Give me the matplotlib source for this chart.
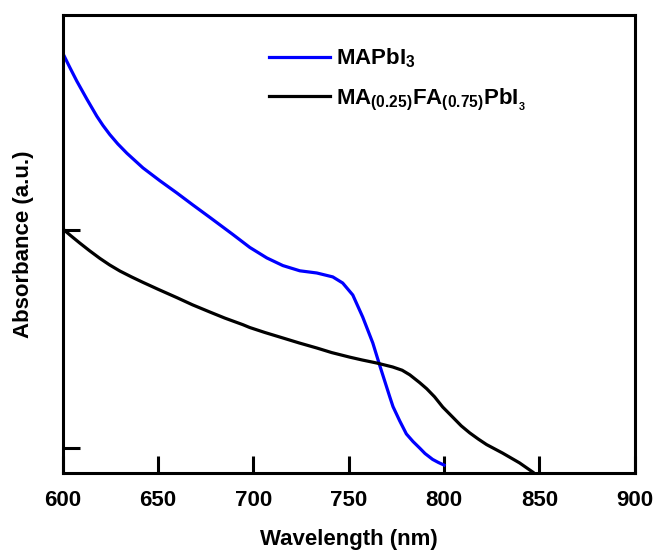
import numpy as np
import matplotlib
matplotlib.use('Agg')
import matplotlib.pyplot as plt

plt.rcParams['font.family'] = ['Liberation Sans', 'DejaVu Sans']
plt.rcParams['font.weight'] = 'bold'
plt.rcParams['mathtext.fontset'] = 'custom'
plt.rcParams['mathtext.rm'] = 'Liberation Sans:bold'
plt.rcParams['mathtext.bf'] = 'Liberation Sans:bold'
plt.rcParams['mathtext.it'] = 'Liberation Sans:bold'
plt.rcParams['mathtext.default'] = 'rm'

#Data (wavelength in nm, absorbance in a.u.)
wl_mapbi = [600, 603.5, 607.3, 612.6, 617.8, 621.0, 624.6, 628.8, 633.6, 642.0,
            650.9, 659.8, 668.2, 677.1, 689.1, 698.1, 707.0, 715.4, 724.3, 733.2,
            741.6, 746.8, 752.1, 757.3, 762.6, 766.2, 771.5, 773.2, 776.7, 780.2,
            783.7, 787.2, 790.0, 794.0, 797.0, 800.0]
abs_mapbi = [1.810, 1.748, 1.683, 1.600, 1.522, 1.480, 1.438, 1.395, 1.352, 1.285,
             1.226, 1.170, 1.115, 1.058, 0.980, 0.920, 0.872, 0.837, 0.813, 0.803,
             0.785, 0.757, 0.702, 0.601, 0.482, 0.380, 0.235, 0.190, 0.125, 0.065,
             0.030, 0.000, -0.025, -0.052, -0.066, -0.078]

wl_mafa = [600, 604, 608.9, 614, 619.4, 624.5, 629.9, 636, 642.0, 650, 659.8, 668,
           677.1, 685, 694.4, 698, 706, 715.4, 724, 733.2, 741, 750.5, 757, 764.7,
           773.0, 778, 782.0, 787.2, 790.9, 795, 799.3, 804.5, 809, 813.4, 818,
           822.3, 830.7, 839.6, 846.5]
abs_mafa = [1.005, 0.975, 0.940, 0.905, 0.870, 0.840, 0.812, 0.785, 0.760, 0.728,
            0.690, 0.657, 0.624, 0.596, 0.566, 0.553, 0.530, 0.505, 0.482, 0.459,
            0.438, 0.417, 0.404, 0.390, 0.372, 0.357, 0.336, 0.300, 0.272, 0.235,
            0.188, 0.142, 0.102, 0.070, 0.041, 0.016, -0.023, -0.068, -0.110]

labels = [r'MAPbI$_3$', r'MA$_{(0.25)}$FA$_{(0.75)}$PbI$_{_3}$']
x_ticks = [600, 650, 700, 750, 800, 850, 900]

fig = plt.figure(figsize=(6.55, 5.56), dpi=100)
ax = fig.add_axes([0.096, 0.149, 0.873, 0.824])

ax.plot(wl_mapbi, abs_mapbi, color='#0000ff', lw=2.3, label=labels[0])
ax.plot(wl_mafa, abs_mafa, color='black', lw=2.3, label=labels[1])

ax.set_xlim(600, 900)
ax.set_ylim(-0.115, 1.986)
ax.set_xticks(x_ticks)
ax.set_yticks([0, 1])
ax.set_yticklabels([])
ax.tick_params(direction='in', length=12, width=2.2, labelsize=16, pad=12)
for s in ax.spines.values():
    s.set_linewidth(2.2)

ax.set_xlabel('Wavelength (nm)', fontsize=16, fontweight='bold', labelpad=13)
ax.set_ylabel('Absorbance (a.u.)', fontsize=16, fontweight='bold', labelpad=9)

leg = ax.legend(loc='upper left', bbox_to_anchor=(0.325, 0.975), frameon=False,
                prop={'weight': 'bold', 'size': 16}, handlelength=2.75,
                handletextpad=0.3, labelspacing=0.75)

plt.savefig('out.png', dpi=100)
